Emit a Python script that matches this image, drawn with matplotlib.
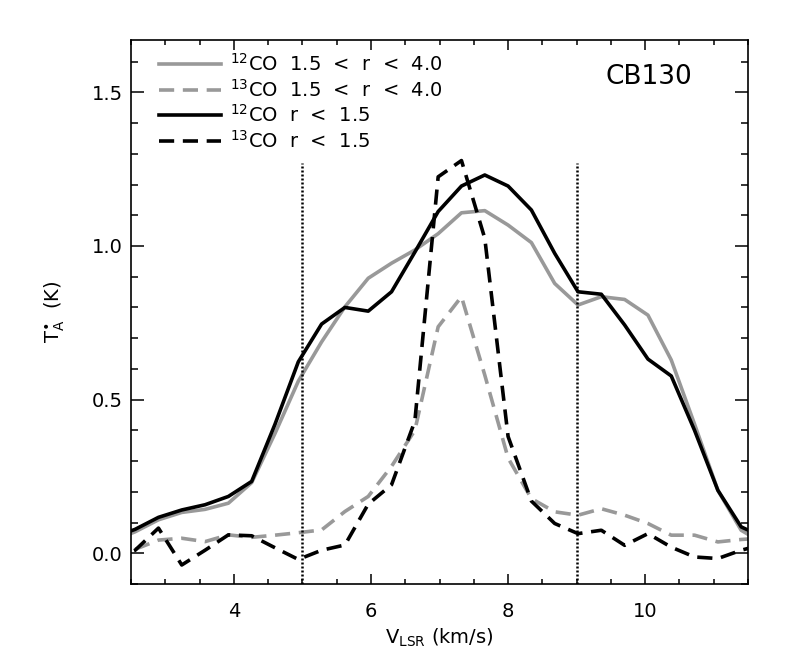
import matplotlib
matplotlib.use("Agg")
import matplotlib.pyplot as plt
from matplotlib.ticker import MultipleLocator

plt.rcParams['font.family'] = ['DejaVu Sans']
plt.rcParams['mathtext.fontset'] = 'dejavusans'

# velocity channels (km/s)
vel = [2.22, 2.56, 2.90, 3.24, 3.58, 3.92, 4.26, 4.60, 4.94, 5.28,
       5.62, 5.96, 6.30, 6.64, 6.98, 7.32, 7.66, 8.00, 8.34, 8.68,
       9.02, 9.36, 9.70, 10.04, 10.38, 10.72, 11.06, 11.40, 11.74]

# 12CO, 1.5 < r < 4.0
co12_outer = [0.04, 0.07, 0.109, 0.133, 0.143, 0.163, 0.23, 0.39, 0.56, 0.688,
              0.802, 0.895, 0.944, 0.987, 1.04, 1.108, 1.115, 1.068, 1.011, 0.878,
              0.808, 0.835, 0.826, 0.775, 0.629, 0.42, 0.205, 0.075, 0.03]
# 13CO, 1.5 < r < 4.0
co13_outer = [0.0, 0.013, 0.043, 0.049, 0.038, 0.06, 0.052, 0.059, 0.067, 0.076,
              0.136, 0.185, 0.283, 0.40, 0.737, 0.835, 0.58, 0.31, 0.178, 0.135,
              0.124, 0.145, 0.124, 0.097, 0.059, 0.059, 0.037, 0.045, 0.05]
# 12CO, r < 1.5
co12_inner = [0.05, 0.078, 0.117, 0.141, 0.158, 0.185, 0.234, 0.42, 0.623, 0.746,
              0.80, 0.788, 0.851, 0.98, 1.112, 1.195, 1.231, 1.195, 1.117, 0.976,
              0.851, 0.843, 0.743, 0.632, 0.577, 0.40, 0.205, 0.086, 0.05]
# 13CO, r < 1.5
co13_inner = [-0.02, 0.01, 0.082, -0.038, 0.01, 0.06, 0.057, 0.018, -0.02, 0.01,
              0.027, 0.16, 0.223, 0.43, 1.225, 1.278, 1.025, 0.38, 0.17, 0.097,
              0.064, 0.075, 0.026, 0.064, 0.02, -0.012, -0.017, 0.01, 0.03]

labels = [r'$^{12}$CO  1.5  <  r  <  4.0', r'$^{13}$CO  1.5  <  r  <  4.0',
          r'$^{12}$CO  r  <  1.5', r'$^{13}$CO  r  <  1.5']
marker_vel = [5.0, 9.0]

gray = '#999999'
lw = 2.6
dash = (0, (4.2, 2.4))

fig = plt.figure(figsize=(7.86, 6.68), dpi=100)
ax = fig.add_axes([0.1667, 0.1257, 0.785, 0.8143])

ax.plot(vel, co12_outer, color=gray, lw=lw, label=labels[0])
ax.plot(vel, co13_outer, color=gray, lw=lw, linestyle=dash, label=labels[1])
ax.plot(vel, co12_inner, color='black', lw=lw, label=labels[2])
ax.plot(vel, co13_inner, color='black', lw=lw, linestyle=dash, label=labels[3])

for v in marker_vel:
    ax.plot([v, v], [-0.1, 1.27], color='black', lw=1.8, linestyle=(0, (0.8, 0.8)))

ax.set_xlim(2.5, 11.5)
ax.set_ylim(-0.1, 1.67)
ax.xaxis.set_major_locator(MultipleLocator(2))
ax.xaxis.set_minor_locator(MultipleLocator(0.5))
ax.yaxis.set_major_locator(MultipleLocator(0.5))
ax.yaxis.set_minor_locator(MultipleLocator(0.1))
ax.yaxis.set_major_formatter(plt.FormatStrFormatter('%.1f'))
ax.tick_params(which='both', direction='in', top=True, right=True,
               labelsize=14, width=1.1)
ax.tick_params(axis='x', which='major', length=7.5, pad=13)
ax.tick_params(axis='x', which='minor', length=3.8)
ax.tick_params(axis='y', which='major', length=9.5, pad=6)
ax.tick_params(axis='y', which='minor', length=5)
for s in ax.spines.values():
    s.set_linewidth(1.2)

ax.set_xlabel(r'V$_{\mathregular{LSR}}$ (km/s)', fontsize=14, labelpad=4)
ax.set_ylabel(r'T$^{\bullet}_{\mathregular{A}}$  (K)', fontsize=14, labelpad=18)

ax.text(10.05, 1.55, 'CB130', fontsize=19, ha='center', va='center')

ax.legend(loc='upper left', bbox_to_anchor=(0.025, 1.0), frameon=False,
          fontsize=14, handlelength=3.2, handletextpad=0.45,
          labelspacing=0.2, borderaxespad=0.25)

fig.savefig('out.png', dpi=100)
